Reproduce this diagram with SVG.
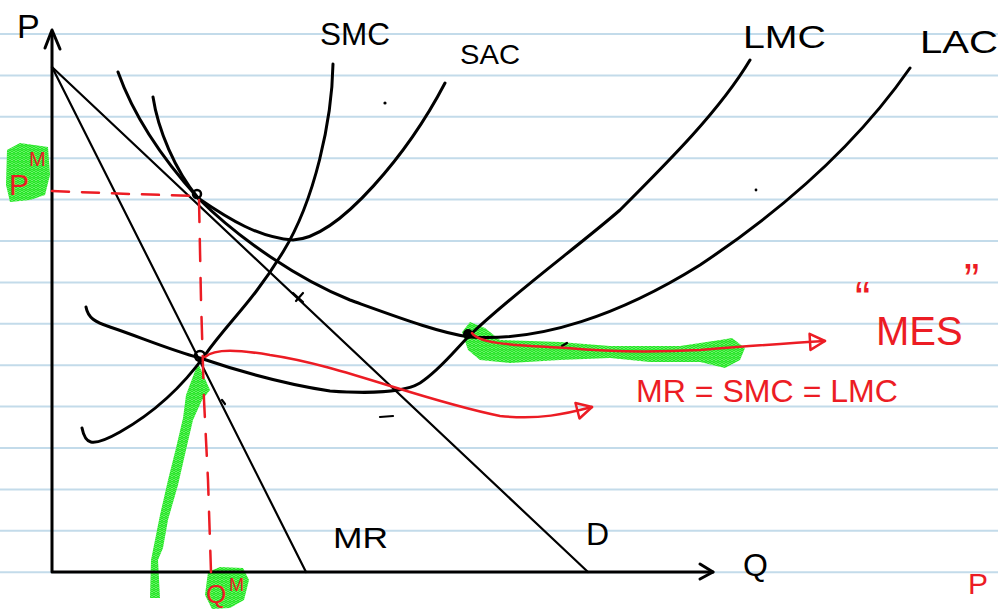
<svg xmlns="http://www.w3.org/2000/svg" width="998" height="610" viewBox="0 0 998 610">
<style>
.rule{stroke:#c3dbea;stroke-width:2}
.ink{fill:none;stroke:#000;stroke-width:3;stroke-linecap:round;stroke-linejoin:round}
.thin{fill:none;stroke:#000;stroke-width:2.2;stroke-linecap:round}
.red{fill:none;stroke:#ec1c24;stroke-width:2.5;stroke-linecap:round;stroke-linejoin:round}
.dash{fill:none;stroke:#ec1c24;stroke-width:2.5;stroke-linecap:round}
.hl{fill:url(#hatch);stroke:none}
.lbl{font-family:"Liberation Sans","DejaVu Sans",sans-serif;fill:#000}
.rlbl{font-family:"Liberation Sans","DejaVu Sans",sans-serif;fill:#ec1c24}
</style>
<defs>
<pattern id="hatch" width="4" height="4" patternUnits="userSpaceOnUse">
<rect width="4" height="4" fill="#8ff78f"/>
<path d="M0,4 L2,2 L4,4 M0,2 L2,0 L4,2" stroke="#22e622" stroke-width="1.2" fill="none"/>
</pattern>
<marker id="tri" viewBox="0 0 20 20" refX="18" refY="10" markerWidth="20" markerHeight="20" markerUnits="userSpaceOnUse" orient="auto">
<path d="M3,2 L18,10 L3,18 Z" fill="none" stroke="#ec1c24" stroke-width="2.5" stroke-linejoin="round"/>
</marker>
</defs>
<rect width="998" height="610" fill="#fff"/>
<g id="paper">
<line class="rule" x1="0" y1="34" x2="998" y2="34"/>
<line class="rule" x1="0" y1="75.4" x2="998" y2="75.4"/>
<line class="rule" x1="0" y1="116.8" x2="998" y2="116.8"/>
<line class="rule" x1="0" y1="158.2" x2="998" y2="158.2"/>
<line class="rule" x1="0" y1="199.6" x2="998" y2="199.6"/>
<line class="rule" x1="0" y1="241" x2="998" y2="241"/>
<line class="rule" x1="0" y1="282.4" x2="998" y2="282.4"/>
<line class="rule" x1="0" y1="323.8" x2="998" y2="323.8"/>
<line class="rule" x1="0" y1="365.2" x2="998" y2="365.2"/>
<line class="rule" x1="0" y1="406.6" x2="998" y2="406.6"/>
<line class="rule" x1="0" y1="448" x2="998" y2="448"/>
<line class="rule" x1="0" y1="489.4" x2="998" y2="489.4"/>
<line class="rule" x1="0" y1="530.8" x2="998" y2="530.8"/>
<line class="rule" x1="0" y1="572.2" x2="998" y2="572.2"/>
</g>
<g id="highlights">
<path class="hl" d="M7,150 L20,143 L48,147 L50,175 L45,195 L30,200 L10,202 L6,185 Z"/>
<path class="hl" d="M208,572 L220,567 L243,568 L249,580 L244,600 L230,608 L212,609 L205,595 Z"/>
<path class="hl" d="M198,363 L210,390 L202,400 L193,420 L186,450 L178,485 L168,520 L163,548 L158,560 L160,598 L150,598 L151,560 L155,540 L160,515 L168,480 L176,448 L183,418 L186,395 Z"/>
<path class="hl" d="M462,332 L470,322 L485,328 L500,340 L560,342 L610,346 L680,346 L720,340 L732,338 L745,348 L740,360 L725,368 L700,362 L650,362 L610,358 L560,360 L510,363 L480,360 L468,350 Z"/>
</g>
<g id="axes">
<path class="ink" d="M52,32 L52,572 L713,572"/>
<path class="ink" d="M45,48 L52,30 L60,49"/>
<path class="ink" d="M700,564 L713,572 L700,579"/>
</g>
<g id="demand"><path class="thin" d="M52,67 L588,572"/></g>
<g id="mr"><path class="thin" d="M52,67 L306,572"/></g>
<g id="sac"><path class="ink" d="M153,97 C158,130 175,170 198,198 C230,220 260,238 293,240 C340,238 410,150 445,83"/></g>
<g id="smc"><path class="ink" d="M333,64 C332,120 315,200 283,252 S230,320 205,355 S150,415 120,432 S85,443 82,428"/></g>
<g id="lac"><path class="ink" d="M118,72 C128,100 150,145 198,198 C240,240 300,280 350,300 C400,318 440,333 470,337 C540,342 620,315 700,265 C790,205 860,140 910,68"/></g>
<g id="lmc"><path class="ink" d="M86,307 C88,318 95,322 110,327 C140,337 170,350 200,358 C250,375 290,385 330,391 C370,394 405,392 420,383 C440,370 455,350 470,335 C515,292 580,245 620,210 C670,160 720,110 750,60"/></g>
<g id="marks">
<circle cx="197" cy="194" r="4" fill="none" stroke="#000" stroke-width="2.5"/>
<circle cx="200" cy="356" r="5" fill="none" stroke="#000" stroke-width="2.5"/>
<circle cx="468" cy="334" r="5" fill="#000"/>
<circle cx="385" cy="103" r="1.6" fill="#000"/>
<circle cx="756" cy="190" r="1.4" fill="#000"/>
<path class="thin" d="M296,301 L303,293 M293,293 L303,302"/>
<path class="thin" d="M380,417 L393,416"/>
<path class="thin" d="M222,400 L225,404"/>
<path class="thin" d="M562,346 L567,343"/>
</g>
<g id="connectors">
<path class="dash" d="M52,191 L130,194 L198,196" stroke-dasharray="17 13"/>
<path class="dash" d="M199,200 L201,300 L204,400 L208,480 L211,572" stroke-dasharray="22 17"/>
<path class="red" d="M205,357 C215,348 240,350 270,355 C340,365 420,400 500,416 C540,420 565,414 592,407" marker-end="url(#tri)"/>
<path class="red" d="M472,333 C480,345 520,345 567,348 C620,353 660,352 700,350 C750,346 790,343 825,341" marker-end="url(#tri)"/>
</g>
<g id="labels">
<text class="lbl" x="17" y="38" font-size="34">P</text>
<text class="lbl" x="320" y="45" font-size="32" textLength="70" lengthAdjust="spacingAndGlyphs">SMC</text>
<text class="lbl" x="460" y="64" font-size="28" textLength="60" lengthAdjust="spacingAndGlyphs">SAC</text>
<text class="lbl" x="743" y="48" font-size="32" textLength="83" lengthAdjust="spacingAndGlyphs">LMC</text>
<text class="lbl" x="920" y="53" font-size="32" textLength="78" lengthAdjust="spacingAndGlyphs">LAC</text>
<text class="lbl" x="333" y="548" font-size="30" textLength="55" lengthAdjust="spacingAndGlyphs">MR</text>
<text class="lbl" x="586" y="545" font-size="32">D</text>
<text class="lbl" x="743" y="576" font-size="32">Q</text>
<text class="rlbl" x="9" y="195" font-size="30">P<tspan x="29" y="166" font-size="20">M</tspan></text>
<text class="rlbl" x="206" y="603" font-size="26">Q<tspan x="229" y="591" font-size="18">M</tspan></text>
<text class="rlbl" x="636" y="402" font-size="32" textLength="262" lengthAdjust="spacingAndGlyphs">MR = SMC = LMC</text>
<text class="rlbl" x="855" y="314" font-size="46">“<tspan x="876" y="345" font-size="40">MES</tspan><tspan x="964" y="296" font-size="46">”</tspan></text>
<text class="rlbl" x="968" y="594" font-size="30">P</text>
</g>
</svg>
